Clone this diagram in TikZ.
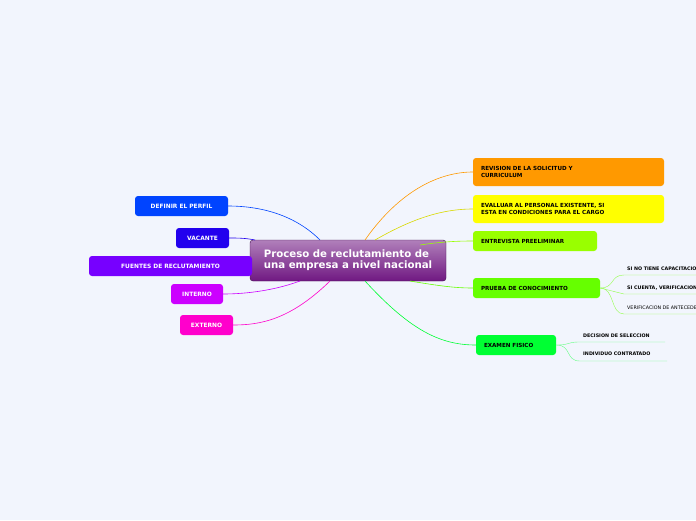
\documentclass[tikz,border=0pt]{standalone}
\usepackage{fontspec}
\setmainfont{DejaVu Sans}
\usetikzlibrary{positioning}
\definecolor{bgcol}{RGB}{242,245,253}
\definecolor{cOrange}{RGB}{255,153,0}
\definecolor{cYellow}{RGB}{255,255,0}
\definecolor{cLime}{RGB}{153,255,0}
\definecolor{cGreenA}{RGB}{102,255,0}
\definecolor{cGreenB}{RGB}{0,255,51}
\definecolor{cBlue}{RGB}{0,68,255}
\definecolor{cIndigo}{RGB}{34,0,238}
\definecolor{cViolet}{RGB}{119,0,255}
\definecolor{cPurple}{RGB}{204,0,255}
\definecolor{cPink}{RGB}{255,0,204}
\definecolor{cCentral}{RGB}{112,24,130}
\tikzset{
  topic/.style={rounded corners=3pt, font=\bfseries\fontsize{5.6}{6.6}\selectfont, inner sep=0pt, minimum height=20pt, align=left},
  lefttopic/.style={topic, text=white, align=center, font=\bfseries\fontsize{5.9}{6.6}\selectfont},
  leaf/.style={font=\bfseries\fontsize{4.8}{5.5}\selectfont, anchor=west, inner sep=0pt},
  link/.style={line width=0.6pt},
}
\begin{document}
\begin{tikzpicture}[x=1pt,y=-1pt]
\fill[bgcol] (0,0) rectangle (696,520);
\useasboundingbox (0,0) rectangle (696,520);
\clip (0,0) rectangle (696,520);

% central topic
\node[rounded corners=3pt, draw=cCentral!60!black, top color=cCentral!55!white, bottom color=cCentral, minimum width=196pt, minimum height=41pt, text=white, font=\bfseries\fontsize{10.2}{11}\selectfont, align=left] (central) at (348,260.5) {Proceso de reclutamiento de\\una empresa a nivel nacional};

% right topics
\node[topic, fill=cOrange, minimum width=191pt, minimum height=28pt, text width=175pt] (revision) at (568.5,172) {REVISION DE LA SOLICITUD Y\\CURRICULUM};
\node[topic, fill=cYellow, minimum width=191pt, minimum height=28pt, text width=175pt] (evaluar) at (568.5,209) {EVALLUAR AL PERSONAL EXISTENTE, SI\\ESTA EN CONDICIONES PARA EL CARGO};
\node[topic, fill=cLime, minimum width=124pt, text width=108pt] (entrevista) at (535,241) {ENTREVISTA PREELIMINAR};
\node[topic, fill=cGreenA, minimum width=127pt, text width=111pt] (prueba) at (536.5,288) {PRUEBA DE CONOCIMIENTO};
\node[topic, fill=cGreenB, minimum width=80pt, text width=64pt] (examen) at (516,345) {EXAMEN FISICO};

% left topics
\node[lefttopic, fill=cBlue, minimum width=93pt] (perfil) at (181.5,206) {DEFINIR EL PERFIL};
\node[lefttopic, fill=cIndigo, minimum width=53pt] (vacante) at (202.5,238) {VACANTE};
\node[lefttopic, fill=cViolet, minimum width=163pt] (fuentes) at (170.5,266) {FUENTES DE RECLUTAMIENTO};
\node[lefttopic, fill=cPurple, minimum width=52pt] (interno) at (197,294) {INTERNO};
\node[lefttopic, fill=cPink, minimum width=53pt] (externo) at (206.5,325) {EXTERNO};

% leaves
\node[leaf] (capac) at (627,269) {SI NO TIENE CAPACITACION};
\node[leaf] (verif) at (627,288) {SI CUENTA, VERIFICACION};
\node[leaf, font=\fontsize{4.8}{5.5}\selectfont] (antec) at (627,308) {VERIFICACION DE ANTECEDENTES};
\node[leaf] (decision) at (583,336) {DECISION DE SELECCION};
\node[leaf] (individuo) at (583,354) {INDIVIDUO CONTRATADO};
\coordinate (capacE) at (700,275);
\coordinate (verifE) at (700,294);
\coordinate (antecE) at (700,314);
\coordinate (decisionE) at (665,342);
\coordinate (individuoE) at (667,361);

% connectors right
\draw[link, cOrange] (365,240) .. controls (400,190) and (440,172) .. (revision.west);
\draw[link, cYellow!85!black] (375,240) .. controls (410,220) and (440,209) .. (evaluar.west);
\draw[link, cLime] (420,245) .. controls (440,242) and (455,241) .. (entrevista.west);
\draw[link, cGreenA] (410,281) .. controls (440,286) and (455,288) .. (prueba.west);
\draw[link, cGreenB] (365,281) .. controls (410,330) and (440,345) .. (examen.west);

% connectors left
\draw[link, cBlue] (320,240) .. controls (290,210) and (250,206) .. (perfil.east);
\draw[link, cIndigo] (255,240) .. controls (245,238) and (238,238) .. (vacante.east);
\draw[link, cViolet] (250,266) -- (fuentes.east);
\draw[link, cPurple] (300,281) .. controls (270,292) and (240,294) .. (interno.east);
\draw[link, cPink] (330,281) .. controls (290,320) and (260,325) .. (externo.east);

% sub links
\draw[link, cGreenA!70!white, line width=0.4pt] (prueba.east) .. controls (615,288) and (610,275) .. (624,275) -- (capacE);
\draw[link, cGreenA!70!white, line width=0.4pt] (prueba.east) -- (624,294) -- (verifE);
\draw[link, cGreenA!70!white, line width=0.4pt] (prueba.east) .. controls (615,288) and (610,314) .. (624,314) -- (antecE);
\draw[link, cGreenB!60!white, line width=0.4pt] (examen.east) .. controls (572,345) and (565,342) .. (580,342) -- (decisionE);
\draw[link, cGreenB!60!white, line width=0.4pt] (examen.east) .. controls (572,345) and (565,361) .. (580,361) -- (individuoE);
\end{tikzpicture}
\end{document}
